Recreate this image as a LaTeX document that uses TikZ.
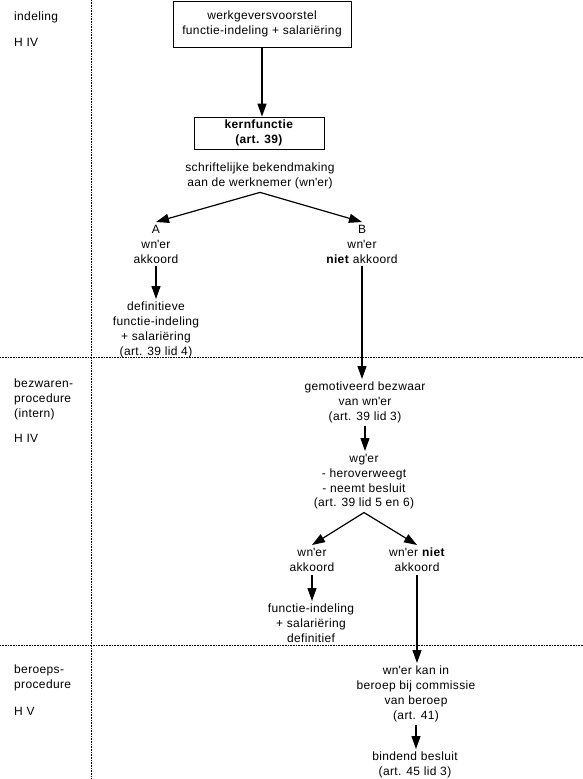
\documentclass[tikz,border=0pt]{standalone}
\usepackage{fontspec}
\setmainfont{Liberation Sans}[LetterSpace=3]
\usepackage{tikz}
\usetikzlibrary{arrows.meta}

\newcommand{\q}{\textquotesingle}

\begin{document}
\begin{tikzpicture}[
    x=1pt, y=-1pt,
    font=\fontsize{12}{14.8}\selectfont,
    box/.style={draw, line width=0.8pt, align=center, inner sep=3pt},
    txt/.style={align=center, inner sep=3pt, anchor=north},
    lbl/.style={align=left, inner sep=0pt, anchor=north west},
    sep/.style={densely dotted, line width=0.6pt},
    arr/.style={-{Triangle[length=13pt,width=9pt]}, line width=1.2pt}
  ]
    \useasboundingbox (0,0) rectangle (583,779);

    % section borders
    \draw[sep] (91,0) -- (91,779);
    \draw[sep] (0,357) -- (583,357);
    \draw[sep] (0,645) -- (583,645);

    % left column
    \node[lbl] (indel) at (14,12) {indeling};
    \node[lbl] (hiv1) at (14,38) {H IV};
    \node[lbl] (bezwlab) at (14,379) {bezwaren-\\procedure\\(intern)};
    \node[lbl] (hiv2) at (14,434) {H IV};
    \node[lbl] (berlab) at (14,665) {beroeps-\\procedure};
    \node[lbl] (hv) at (14,707) {H V};

    % indeling
    \node[box, minimum width=178pt, minimum height=46pt] (voorstel) at (262,24)
      {werkgeversvoorstel\\functie-indeling + salariëring};
    \node[box, minimum width=130pt, minimum height=32pt] (kern) at (259,133)
      {\textbf{kernfunctie}\\\textbf{(art. 39)}};
    \node[txt] (bekend) at (260,160)
      {schriftelijke bekendmaking\\aan de werknemer (wn\q er)};
    \node[txt] (nA) at (156,222) {A\\wn\q er\\akkoord};
    \node[txt] (nB) at (362,222) {B\\wn\q er\\\textbf{niet} akkoord};
    \node[txt] (defA) at (156,299)
      {definitieve\\functie-indeling\\+ salariëring\\(art. 39 lid 4)};

    % bezwarenprocedure
    \node[txt] (bezw) at (365,379)
      {gemotiveerd bezwaar\\van wn\q er\\(art. 39 lid 3)};
    \node[txt] (wg) at (364,451)
      {wg\q er\\- heroverweegt\\- neemt besluit\\(art. 39 lid 5 en 6)};
    \node[txt] (nC) at (312,545) {wn\q er\\akkoord};
    \node[txt] (nD) at (417,545) {wn\q er \textbf{niet}\\akkoord};
    \node[txt] (fdef) at (311,601)
      {functie-indeling\\+ salariëring\\definitief};

    % beroepsprocedure
    \node[txt] (beroep) at (416,663)
      {wn\q er kan in\\beroep bij commissie\\van beroep\\(art. 41)};
    \node[txt] (besluit) at (415,749)
      {bindend besluit\\(art. 45 lid 3)};

    \draw[arr] (voorstel.south) -- (voorstel.south |- kern.north);
    \draw[arr] (bekend.south) -- (nA.north);
    \draw[arr] (bekend.south) -- (nB.north);
    \draw[arr] (nA) -- (defA);
    \draw[arr] (nB.south) -- (nB.south |- bezw.north);
    \draw[arr] (bezw.south) -- (bezw.south |- wg.north);
    \draw[arr] (wg.south) -- (nC.north);
    \draw[arr] (wg.south) -- (nD.north);
    \draw[arr] (nC.south) -- (nC.south |- fdef.north);
    \draw[arr] (nD.south) -- (nD.south |- beroep.north);
    \draw[arr] (beroep.south) -- (beroep.south |- besluit.north);
  \end{tikzpicture}
\end{document}
